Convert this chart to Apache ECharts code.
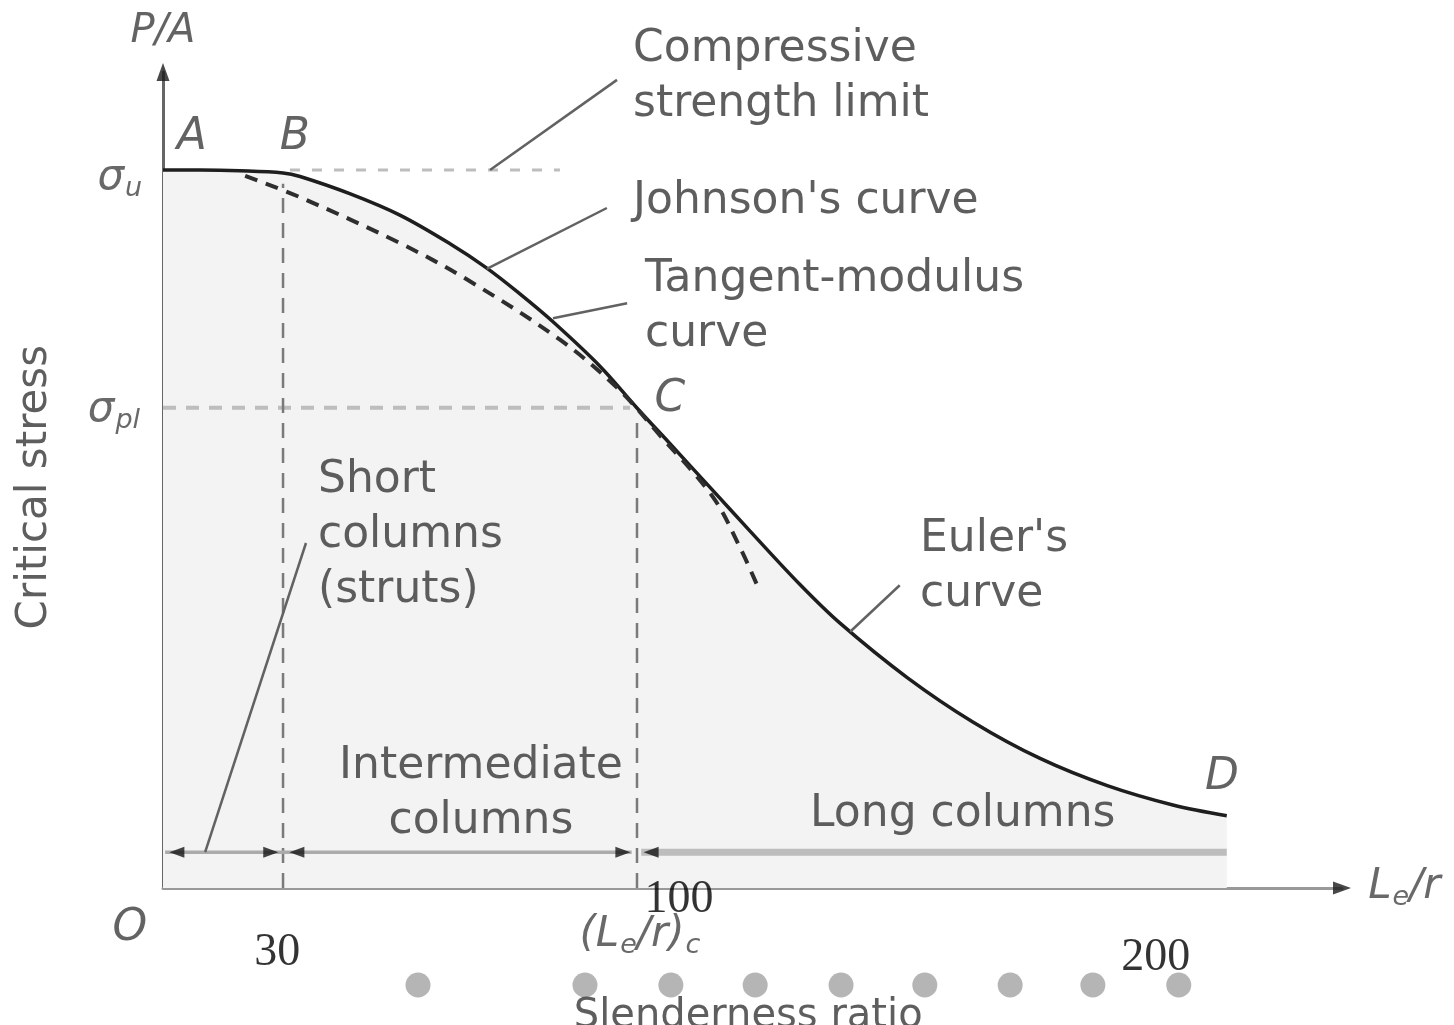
<!DOCTYPE html>
<html><head><meta charset="utf-8">
<script src="https://cdn.jsdelivr.net/npm/echarts@6/dist/echarts.min.js"></script>
<style>html,body{margin:0;padding:0;background:#fff}#c{width:1454px;height:1025px}</style>
</head><body><div id="c"></div>
<script>
// ---- data (x: slenderness ratio Le/r, y: critical stress P/A) ----
const curveX   = [0,7,14.4,22.5,25.7,35,44.4,53.8,60.7,66.9,73.1,81.9,88.8,95,102.5,110,119.4,126.9,139.5,151.8,164.4,177,189.3,199.4];
const curveY   = [100.3,100.3,100.2,99.9,99.4,97.0,94.0,90.0,86.6,83.0,79.1,72.9,67.1,62.1,56.0,49.9,42.4,37.0,29.4,23.2,18.1,14.3,11.6,10.1];
const tangentX = [15.4,25.7,44.4,57.0,74.4,85.1,93.2,103.1,108.2,111.9];
const tangentY = [99.5,96.5,90.1,85.0,76.6,69.9,63.2,54.6,47.5,41.4];
const sigmaU = 100.3, sigmaPL = 67.1;
const xB = 22.5, xC = 88.85, xD = 199.4;
const sigmaUDash = [23.8, 74.4];
const bandY = 5;
const dotX = [47.8,79.1,95.2,111.0,127.1,142.8,158.8,174.3,190.4];
const dotY = -13.55;
const tickLabels = ['30','100','200'];
const tickX = [21.4, 96.7, 186.1];
const tickY = [-9.1, -1.7, -9.8];

// ---- layout ----
const XMAX = 221, YMAX = 114;
const leaders = [
  [[61.3,100.3],[85.1,112.9]],
  [[60.7,86.5],[83.2,95.0]],
  [[73.1,79.6],[87.0,81.7]],
  [[128.8,35.8],[138.1,42.3]],
  [[7.9,5.0],[26.8,48.2]]
];
const arrowHeads = [[2.6,90],[20.2,-90],[25.1,90],[86.2,-90],[91.5,90]];

const body = {fontFamily:'DejaVu Sans', fontSize:44, color:'#363636', lineHeight:55};
const ital = {fontFamily:'DejaVu Sans', fontStyle:'italic', fontSize:44, color:'#3c3c3c'};
const num  = {fontFamily:'Liberation Serif', fontSize:46, color:'#000'};
const subRich = {
  m:{fontSize:42, fontStyle:'italic', fontFamily:'DejaVu Sans', color:'#444'},
  s:{fontSize:27, fontStyle:'italic', fontFamily:'DejaVu Sans', color:'#444', padding:[22,0,0,1]}
};
const labels = [
  {t:'Compressive\nstrength limit', p:[88.1,113.3], st:body, a:'left'},
  {t:"Johnson's curve", p:[88.1,95.85], st:body, a:'left'},
  {t:'Tangent-modulus\ncurve', p:[90.35,81.1], st:body, a:'left'},
  {t:"Euler's\ncurve", p:[141.9,44.8], st:body, a:'left'},
  {t:'Short\ncolumns\n(struts)', p:[29.05,49.3], st:body, a:'left'},
  {t:'Intermediate\ncolumns', p:[59.6,13.1], st:body, a:'center'},
  {t:'Long columns', p:[121.3,10.2], st:body, a:'left'},
  {t:'Critical stress', p:[-24,56], st:Object.assign({}, body, {fontSize:42}), a:'center', r:90},
  {t:'Slenderness ratio', p:[109.7,-17.9], st:Object.assign({}, body, {fontSize:40}), a:'center'},
  {t:'P/A', p:[0,119.6], st:Object.assign({}, ital, {fontSize:40}), a:'center'},
  {t:'A', p:[5.4,104.8], st:ital, a:'center'},
  {t:'B', p:[24.7,104.8], st:ital, a:'center'},
  {t:'C', p:[95.0,68.2], st:ital, a:'center'},
  {t:'D', p:[198.5,15.4], st:ital, a:'center'},
  {t:'O', p:[-6.2,-5.6], st:ital, a:'center'},
  {t:'{m|σ}{s|u}', p:[-8.1,99.2], st:{rich:subRich}, a:'center'},
  {t:'{m|σ}{s|pl}', p:[-9.2,66.8], st:{rich:subRich}, a:'center'},
  {t:'{m|(L}{s|e}{m|/r)}{s|c}', p:[89.4,-6.6], st:{rich:subRich}, a:'center'},
  {t:'{m|L}{s|e}{m|/r}', p:[225.9,0.1], st:{rich:subRich}, a:'left'}
];
tickLabels.forEach((t,i)=>labels.push({t:t, p:[tickX[i],tickY[i]], st:num, a:'center'}));

const zip = (xs, ys) => xs.map((x,i)=>[x, ys[i]]);
const seg = (data, style, z) => ({type:'line', data, symbol:'none', clip:false, silent:true, z:z||3, lineStyle:style});

const series = [
  {type:'line', data:zip(curveX, curveY), smooth:0.35, symbol:'none', clip:false, silent:true, z:2,
   lineStyle:{color:'#1e1e1e', width:3.5}, areaStyle:{color:'#f3f3f3', opacity:1}},
  seg([[sigmaUDash[0],sigmaU],[sigmaUDash[1],sigmaU]], {color:'#bdbdbd', width:3, type:[10,12]}),
  seg([[0,sigmaPL],[xC-1.3,sigmaPL]], {color:'#bdbdbd', width:4, type:[13,10]}),
  seg([[xB,0],[xB,98.4]], {color:'#7a7a7a', width:2.5, type:[15,10]}),
  seg([[xC,0],[xC,66]], {color:'#7a7a7a', width:2.5, type:[15,10]}),
  seg([[0.4,bandY],[xC-1,bandY]], {color:'#ababab', width:3.5}),
  seg([[xC+0.8,bandY],[xD,bandY]], {color:'#bdbdbd', width:7}),
  {type:'line', data:zip(tangentX, tangentY), smooth:0.35, symbol:'none', clip:false, silent:true, z:4,
   lineStyle:{color:'#2e2e2e', width:4, type:[13,9]}}
];
leaders.forEach(l => series.push(seg(l, {color:'#626262', width:2.5}, 5)));
series.push({type:'scatter', silent:true, clip:false, z:6, symbol:'triangle',
  data: arrowHeads.map(a=>({value:[a[0],bandY], symbolRotate:a[1]})), symbolSize:[11,15],
  itemStyle:{color:'#151515'}});
series.push({type:'scatter', silent:true, clip:false, z:6, symbol:'triangle',
  data:[{value:[0,YMAX], symbolRotate:0},{value:[XMAX,0], symbolRotate:-90}], symbolSize:[13,18],
  itemStyle:{color:'#1a1a1a'}});
series.push({type:'scatter', silent:true, clip:false, z:6, symbolSize:25,
  data: dotX.map(x=>[x,dotY]), itemStyle:{color:'#a3a3a3'}});
series.push({type:'scatter', silent:true, clip:false, z:10, symbolSize:0,
  data: labels.map(l=>({value:l.p, label:Object.assign({show:true, position:'inside', formatter:l.t,
     align:l.a, verticalAlign:'middle', rotate:l.r||0}, l.st)})),
  label:{show:true}});

const chart = echarts.init(document.getElementById('c'), null, {renderer:'canvas'});
chart.setOption({
  animation:false,
  backgroundColor:'#fff',
  grid:{left:163, right:112, top:72, bottom:137},
  xAxis:{type:'value', min:0, max:XMAX, axisLine:{show:true, onZero:false, lineStyle:{color:'#999', width:3}},
         axisTick:{show:false}, axisLabel:{show:false}, splitLine:{show:false}},
  yAxis:{type:'value', min:0, max:YMAX, axisLine:{show:true, onZero:false, lineStyle:{color:'#666', width:3}},
         axisTick:{show:false}, axisLabel:{show:false}, splitLine:{show:false}},
  series
});
</script></body></html>
